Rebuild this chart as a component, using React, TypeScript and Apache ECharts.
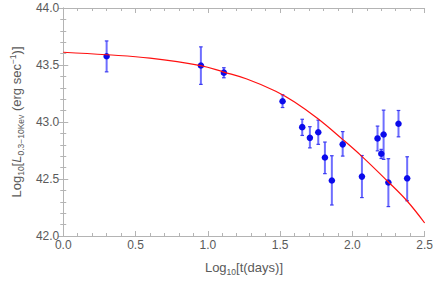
import React, { useEffect, useRef } from "react";
import * as echarts from "echarts";

// Observed data: log10 t (days), log10 L, error bar low, error bar high
const obsX = [0.3, 0.952, 1.111, 1.517, 1.653, 1.706, 1.764, 1.81, 1.858, 1.933, 2.066, 2.174, 2.2, 2.216, 2.249, 2.319, 2.379];
const obsY = [43.577, 43.496, 43.433, 43.182, 42.955, 42.861, 42.91, 42.689, 42.487, 42.804, 42.521, 42.856, 42.721, 42.89, 42.469, 42.985, 42.506];
const errLo = [43.44, 43.33, 43.388, 43.127, 42.882, 42.773, 42.804, 42.547, 42.272, 42.701, 42.337, 42.747, 42.68, 42.672, 42.258, 42.87, 42.309];
const errHi = [43.711, 43.659, 43.476, 43.239, 43.024, 42.959, 43.016, 42.824, 42.704, 42.916, 42.706, 42.964, 42.76, 43.104, 42.678, 43.101, 42.695];

// Fitted model curve
const curveX = [0, 0.3, 0.6, 0.95, 1.11, 1.27, 1.47, 1.6, 1.76, 1.93, 2.06, 2.24, 2.38, 2.5];
const curveY = [43.612, 43.59, 43.56, 43.495, 43.438, 43.377, 43.27, 43.175, 43.03, 42.85, 42.705, 42.485, 42.305, 42.114];

const xTicks = { min: 0, max: 2.5, interval: 0.5 };
const yTicks = { min: 42, max: 44, interval: 0.5 };

const FONT = "'Liberation Sans', Arial, sans-serif";
const LABEL = "#5a5a5a";
const FRAME = "#b4b4b4";

const nameRich = {
  a: { fontSize: 13, color: LABEL, fontFamily: FONT, lineHeight: 17, verticalAlign: "middle" as const },
  i: { fontSize: 13, color: LABEL, fontFamily: FONT, fontStyle: "italic" as const, lineHeight: 17, verticalAlign: "middle" as const },
  s: { fontSize: 8.5, color: LABEL, fontFamily: FONT, lineHeight: 17, verticalAlign: "bottom" as const },
  p: { fontSize: 8.5, color: LABEL, fontFamily: FONT, lineHeight: 17, verticalAlign: "top" as const },
};

export default function App() {
  const ref = useRef<HTMLDivElement>(null);
  useEffect(() => {
    if (!ref.current) return;
    const chart = echarts.init(ref.current, undefined, { renderer: "svg" });
    const axisCommon = {
      type: "value" as const,
      axisLine: { show: true, lineStyle: { color: FRAME, width: 1 } },
      axisTick: { show: true, inside: true, length: 5, lineStyle: { color: FRAME } },
      minorTick: { show: true, splitNumber: 5, length: 3, lineStyle: { color: FRAME } },
      splitLine: { show: false },
      minorSplitLine: { show: false },
    };
    const labelStyle = { color: LABEL, fontSize: 12, fontFamily: FONT, formatter: (v: number) => v.toFixed(1) };
    chart.setOption({
      animation: false,
      backgroundColor: "#ffffff",
      grid: { left: 48, right: 10, top: 8, bottom: 39 },
      xAxis: [
        {
          ...axisCommon,
          ...xTicks,
          position: "bottom",
          axisLabel: { ...labelStyle, margin: 3, showMaxLabel: true, showMinLabel: true },
          name: "{a|Log}{s|10}{a|[t(days)]}",
          nameLocation: "middle",
          nameGap: 23,
          nameTextStyle: { rich: nameRich },
        },
        {
          ...axisCommon,
          ...xTicks,
          position: "top",
          axisLabel: { show: false },
        },
      ],
      yAxis: [
        {
          ...axisCommon,
          ...yTicks,
          position: "left",
          axisLabel: { ...labelStyle, margin: 4 },
          name: "{a|Log}{s|10}{a|[}{i|L}{s|0.3\u221210Kev}{a| (erg sec}{p|\u22121}{a|)]}",
          nameLocation: "middle",
          nameRotate: 90,
          nameGap: 33,
          nameTextStyle: { rich: nameRich },
        },
        {
          ...axisCommon,
          ...yTicks,
          position: "right",
          axisLabel: { show: false },
        },
      ],
      series: [
        {
          type: "custom",
          xAxisIndex: 0,
          yAxisIndex: 0,
          z: 2,
          data: obsX.map((x, i) => [x, errLo[i], errHi[i]]),
          renderItem: (params: any, api: any) => {
            const x = api.value(0);
            const lo = api.coord([x, api.value(1)]);
            const hi = api.coord([x, api.value(2)]);
            const cap = 1.8;
            return {
              type: "group",
              children: [
                { type: "line", shape: { x1: lo[0], y1: lo[1], x2: hi[0], y2: hi[1] }, style: { stroke: "#6e6eff", lineWidth: 2 } },
                { type: "line", shape: { x1: lo[0] - cap, y1: lo[1], x2: lo[0] + cap, y2: lo[1] }, style: { stroke: "#3c3cf0", lineWidth: 1.2 } },
                { type: "line", shape: { x1: hi[0] - cap, y1: hi[1], x2: hi[0] + cap, y2: hi[1] }, style: { stroke: "#3c3cf0", lineWidth: 1.2 } },
              ],
            };
          },
        },
        {
          type: "scatter",
          xAxisIndex: 0,
          yAxisIndex: 0,
          z: 3,
          symbol: "circle",
          symbolSize: 6.5,
          itemStyle: { color: "#0a0aeb", opacity: 1 },
          data: obsX.map((x, i) => [x, obsY[i]]),
        },
        {
          type: "line",
          xAxisIndex: 0,
          yAxisIndex: 0,
          z: 4,
          smooth: 0.4,
          showSymbol: false,
          symbol: "none",
          lineStyle: { color: "#ff1010", width: 1.2 },
          data: curveX.map((x, i) => [x, curveY[i]]),
        },
      ],
    });
    return () => chart.dispose();
  }, []);
  return <div ref={ref} style={{ position: "fixed", left: 0, top: 0, width: 436, height: 281 }} />;
}
